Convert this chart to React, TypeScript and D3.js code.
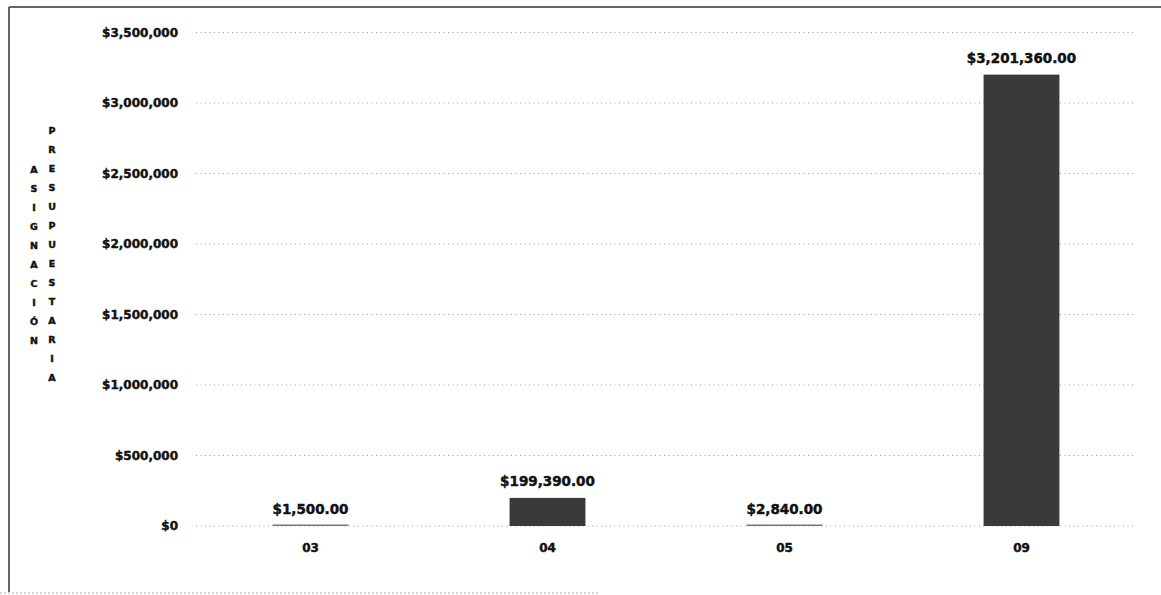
import React, { useEffect, useRef } from "react";
import * as d3 from "d3";

const categories = ["03", "04", "05", "09"];
const values = [1500, 199390, 2840, 3201360];
const yTicks = [0, 500000, 1000000, 1500000, 2000000, 2500000, 3000000, 3500000];
const titleLeft = "ASIGNACIÓN";
const titleRight = "PRESUPUESTARIA";

const W = 1161;
const H = 595;
const FONT = "'DejaVu Sans', sans-serif";

export default function App() {
  const svgRef = useRef<SVGSVGElement>(null);

  useEffect(() => {
    const svg = d3.select(svgRef.current);
    svg.selectAll("*").remove();

    const x = d3.scaleBand<string>().domain(categories).range([192, 1140]);
    const y = d3.scaleLinear().domain([0, 3500000]).range([526, 32.5]);
    const barW = x.bandwidth() * 0.32;

    // bold scanned-looking text
    const heavy = (sel: any, size: number) =>
      sel
        .attr("font-family", FONT)
        .attr("font-weight", "bold")
        .attr("font-size", size)
        .attr("fill", "#111")
        .attr("stroke", "#111")
        .attr("stroke-width", 0.45);

    // frame of the scanned page
    svg.append("line").attr("x1", 9).attr("x2", W).attr("y1", 7).attr("y2", 7)
      .attr("stroke", "#333").attr("stroke-width", 1.5);
    svg.append("line").attr("x1", 9).attr("x2", 9).attr("y1", 7).attr("y2", 592)
      .attr("stroke", "#333").attr("stroke-width", 1.5);
    svg.append("line").attr("x1", 0).attr("x2", 600).attr("y1", 593).attr("y2", 593)
      .attr("stroke", "#aaa").attr("stroke-dasharray", "2 2");

    // grid
    svg.append("g")
      .selectAll("line")
      .data(yTicks)
      .join("line")
      .attr("x1", 196)
      .attr("x2", 1135)
      .attr("y1", (d) => y(d))
      .attr("y2", (d) => y(d))
      .attr("stroke", "#999")
      .attr("stroke-dasharray", "1 3.5");

    // y tick labels
    heavy(
      svg.append("g")
        .selectAll("text")
        .data(yTicks)
        .join("text")
        .attr("x", 178)
        .attr("y", (d) => y(d))
        .attr("dy", "0.36em")
        .attr("text-anchor", "end"),
      12
    ).text((d: number) => d3.format("$,")(d));

    // stacked axis title letters
    const colA = svg.append("g");
    titleLeft.split("").forEach((ch, i) => {
      heavy(colA.append("text").attr("x", 34).attr("y", 170 + i * 18.9).attr("dy", "0.36em")
        .attr("text-anchor", "middle"), 9.5).text(ch);
    });
    titleRight.split("").forEach((ch, i) => {
      heavy(colA.append("text").attr("x", 52).attr("y", 131 + i * 19.0).attr("dy", "0.36em")
        .attr("text-anchor", "middle"), 9.5).text(ch);
    });

    const data = categories.map((c, i) => ({ c, v: values[i] }));

    // bars
    svg.append("g")
      .selectAll("rect")
      .data(data)
      .join("rect")
      .attr("x", (d) => x(d.c)! + x.bandwidth() / 2 - barW / 2)
      .attr("width", barW)
      .attr("y", (d) => Math.min(y(d.v), y(0) - 1.5))
      .attr("height", (d) => Math.max(y(0) - y(d.v), 1.5))
      .attr("fill", (d) => (y(0) - y(d.v) < 2 ? "#777" : "#3a3a3a"));

    // value labels
    heavy(
      svg.append("g")
        .selectAll("text")
        .data(data)
        .join("text")
        .attr("x", (d) => x(d.c)! + x.bandwidth() / 2)
        .attr("y", (d) => y(d.v) - 12)
        .attr("text-anchor", "middle"),
      13.5
    ).text((d: { c: string; v: number }) => d3.format("$,.2f")(d.v));

    // category labels
    heavy(
      svg.append("g")
        .selectAll("text")
        .data(categories)
        .join("text")
        .attr("x", (d) => x(d)! + x.bandwidth() / 2)
        .attr("y", 548)
        .attr("dy", "0.36em")
        .attr("text-anchor", "middle"),
      12
    ).text((d: string) => d);
  }, []);

  return (
    <div style={{ position: "absolute", left: 0, top: 0 }}>
      <svg ref={svgRef} width={W} height={H} style={{ display: "block", background: "#fff" }}></svg>
    </div>
  );
}
